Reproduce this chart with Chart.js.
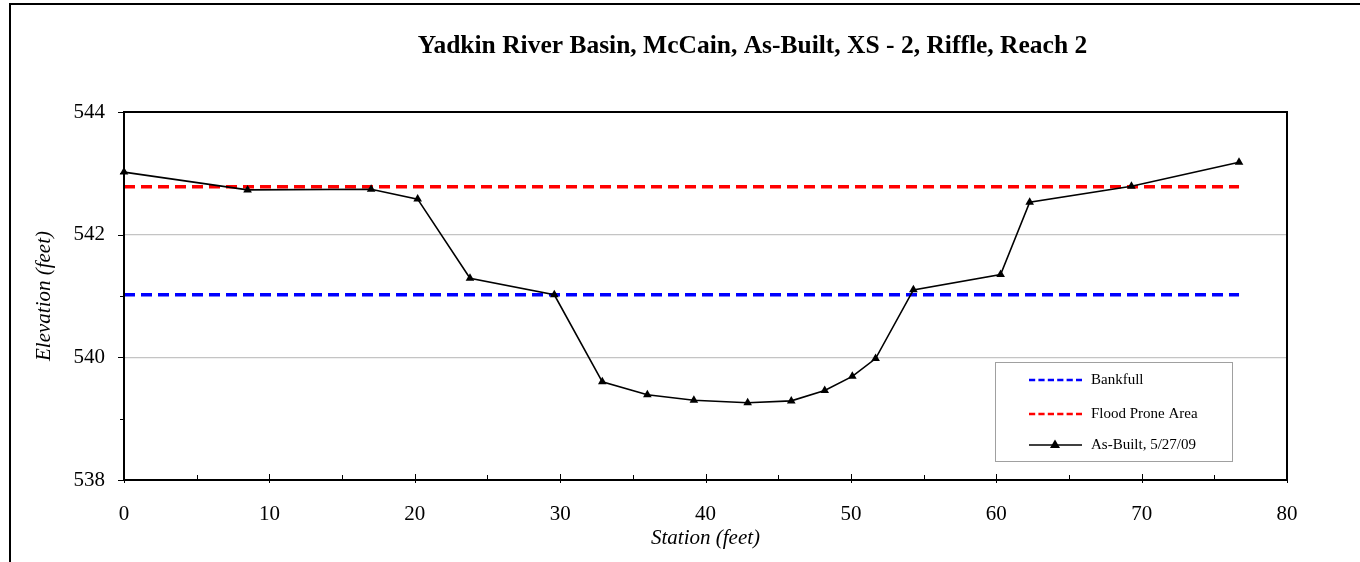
<!DOCTYPE html>
<html>
<head>
<meta charset="utf-8">
<script src="https://cdn.jsdelivr.net/npm/chart.js@4/dist/chart.umd.min.js"></script>
<style>
  html, body { margin: 0; padding: 0; background: #fff; }
  #wrap { position: relative; width: 1360px; height: 562px; overflow: hidden; }
  #frame { position: absolute; left: 9px; top: 3px; width: 1400px; height: 600px;
           border-left: 2px solid #000; border-top: 2px solid #000; box-sizing: border-box; }
  canvas { position: absolute; left: 0; top: 0; }
</style>
</head>
<body>
<div id="wrap">
  <div id="frame"></div>
  <canvas id="c" width="1360" height="562"></canvas>
</div>
<script>
// Surveyed cross-section, station (ft) and elevation (ft)
const station = [0, 8.5, 17.0, 20.2, 23.8, 29.6, 32.9, 36.0, 39.2, 42.9, 45.9, 48.2, 50.1, 51.7, 54.3, 60.3, 62.3, 69.3, 76.7];
const elevation = [543.02, 542.73, 542.74, 542.58, 541.29, 541.02, 539.60, 539.39, 539.30, 539.26, 539.29, 539.46, 539.69, 539.98, 541.10, 541.35, 542.53, 542.79, 543.18];

// Reference elevations, drawn across the section
const lineStations = [0, 76.7];
const bankfullElev = 541.02;
const floodProneElev = 542.78;

const chartTitle = 'Yadkin River Basin, McCain, As-Built, XS - 2, Riffle, Reach 2';
const seriesNames = ['Bankfull', 'Flood Prone Area', 'As-Built, 5/27/09'];
const xTicks = [0, 10, 20, 30, 40, 50, 60, 70, 80];
const yTicks = [538, 540, 542, 544];

const SERIF = '"Liberation Serif", "Times New Roman", serif';

const toPoints = (xs, ys) => xs.map((x, i) => ({ x: x, y: ys[i] }));

// Title, plot-area frame, minor/major tick marks and the boxed legend
const decorations = {
  id: 'decorations',
  afterDraw(chart) {
    const { ctx, chartArea: a, scales } = chart;
    const xs = scales.x, ys = scales.y;
    ctx.save();

    // title
    ctx.fillStyle = '#000';
    ctx.font = 'bold 25.5px ' + SERIF;
    ctx.textAlign = 'center';
    ctx.textBaseline = 'middle';
    ctx.fillText(chartTitle, 752.5, 46);

    ctx.strokeStyle = '#000';
    ctx.lineWidth = 2;
    ctx.strokeRect(a.left, a.top, a.right - a.left, a.bottom - a.top);

    ctx.lineWidth = 1;
    // x ticks: majors cross the axis, minors sit inside
    for (let v = 0; v <= 80; v += 5) {
      const px = Math.round(xs.getPixelForValue(v)) + 0.5;
      const major = v % 10 === 0;
      ctx.beginPath();
      ctx.moveTo(px, a.bottom - (major ? 6 : 5));
      ctx.lineTo(px, a.bottom + (major ? 3 : 0));
      ctx.stroke();
    }
    // y ticks: outside the axis
    for (let v = 538; v <= 544; v += 1) {
      const py = Math.round(ys.getPixelForValue(v)) + 0.5;
      const major = v % 2 === 0;
      ctx.beginPath();
      ctx.moveTo(a.left - (major ? 6 : 4), py);
      ctx.lineTo(a.left, py);
      ctx.stroke();
    }

    // legend box
    const bx = 995.5, by = 362.5, bw = 237, bh = 99;
    ctx.fillStyle = '#fff';
    ctx.fillRect(bx, by, bw, bh);
    ctx.strokeStyle = '#a0a0a0';
    ctx.lineWidth = 1;
    ctx.strokeRect(bx, by, bw, bh);

    const rows = [380, 414, 445];
    const ds = chart.data.datasets;
    ctx.font = '15px ' + SERIF;
    ctx.textAlign = 'left';
    ctx.textBaseline = 'middle';
    ds.forEach((d, i) => {
      const y = rows[i];
      const dashed = !!d.borderDash;
      ctx.save();
      ctx.strokeStyle = d.borderColor;
      ctx.lineWidth = dashed ? 2.5 : d.borderWidth;
      ctx.setLineDash(dashed ? [6.2, 3.2] : []);
      ctx.beginPath();
      ctx.moveTo(1029, y);
      ctx.lineTo(1082, y);
      ctx.stroke();
      ctx.restore();
      if (d.pointStyle === 'triangle') {
        ctx.fillStyle = '#000';
        ctx.beginPath();
        ctx.moveTo(1055, y - 5.5);
        ctx.lineTo(1060, y + 3);
        ctx.lineTo(1050, y + 3);
        ctx.closePath();
        ctx.fill();
      }
      ctx.fillStyle = '#000';
      ctx.fillText(seriesNames[i], 1091, y);
    });
    ctx.restore();
  }
};

new Chart(document.getElementById('c'), {
  type: 'scatter',
  data: {
    datasets: [
      {
        label: seriesNames[0],
        data: toPoints(lineStations, lineStations.map(() => bankfullElev)),
        showLine: true,
        borderColor: '#0000ff',
        borderWidth: 3.5,
        borderDash: [11, 6],
        pointRadius: 0,
        clip: false,
        order: 2
      },
      {
        label: seriesNames[1],
        data: toPoints(lineStations, lineStations.map(() => floodProneElev)),
        showLine: true,
        borderColor: '#ff0000',
        borderWidth: 3.5,
        borderDash: [11, 6],
        pointRadius: 0,
        clip: false,
        order: 3
      },
      {
        label: seriesNames[2],
        data: toPoints(station, elevation),
        showLine: true,
        borderColor: '#000',
        borderWidth: 1.6,
        pointStyle: 'triangle',
        pointRadius: 5,
        pointBackgroundColor: '#000',
        pointBorderColor: '#000',
        pointBorderWidth: 0,
        clip: false,
        order: 1
      }
    ]
  },
  options: {
    responsive: false,
    animation: false,
    events: [],
    layout: { padding: { left: 0, right: 73, top: 112, bottom: 0 } },
    plugins: {
      legend: { display: false },
      tooltip: { enabled: false },
      title: { display: false }
    },
    scales: {
      x: {
        type: 'linear',
        min: 0, max: 80,
        afterBuildTicks: (s) => { s.ticks = xTicks.map(v => ({ value: v })); },
        ticks: { color: '#000', font: { family: SERIF, size: 21 }, padding: 22 },
        grid: { display: false, drawTicks: false },
        border: { display: false },
        title: {
          display: true, text: 'Station (feet)', color: '#000',
          font: { family: SERIF, size: 21, style: 'italic' }, padding: { top: 0, bottom: 11 }
        },
        afterFit: (s) => { s.height = 82; }
      },
      y: {
        type: 'linear',
        min: 538, max: 544,
        afterBuildTicks: (s) => { s.ticks = yTicks.map(v => ({ value: v })); },
        ticks: { color: '#000', font: { family: SERIF, size: 21 }, padding: 19 },
        grid: {
          drawTicks: false,
          color: (c) => (c.tick && (c.tick.value === 538 || c.tick.value === 544)) ? 'rgba(0,0,0,0)' : '#c4c4c4',
          lineWidth: 1.2
        },
        border: { display: false },
        title: {
          display: true, text: 'Elevation (feet)', color: '#000',
          font: { family: SERIF, size: 21, style: 'italic' }, padding: { top: 31.4, bottom: 0 }
        },
        afterFit: (s) => { s.width = 124; }
      }
    }
  },
  plugins: [decorations]
});
</script>
</body>
</html>
